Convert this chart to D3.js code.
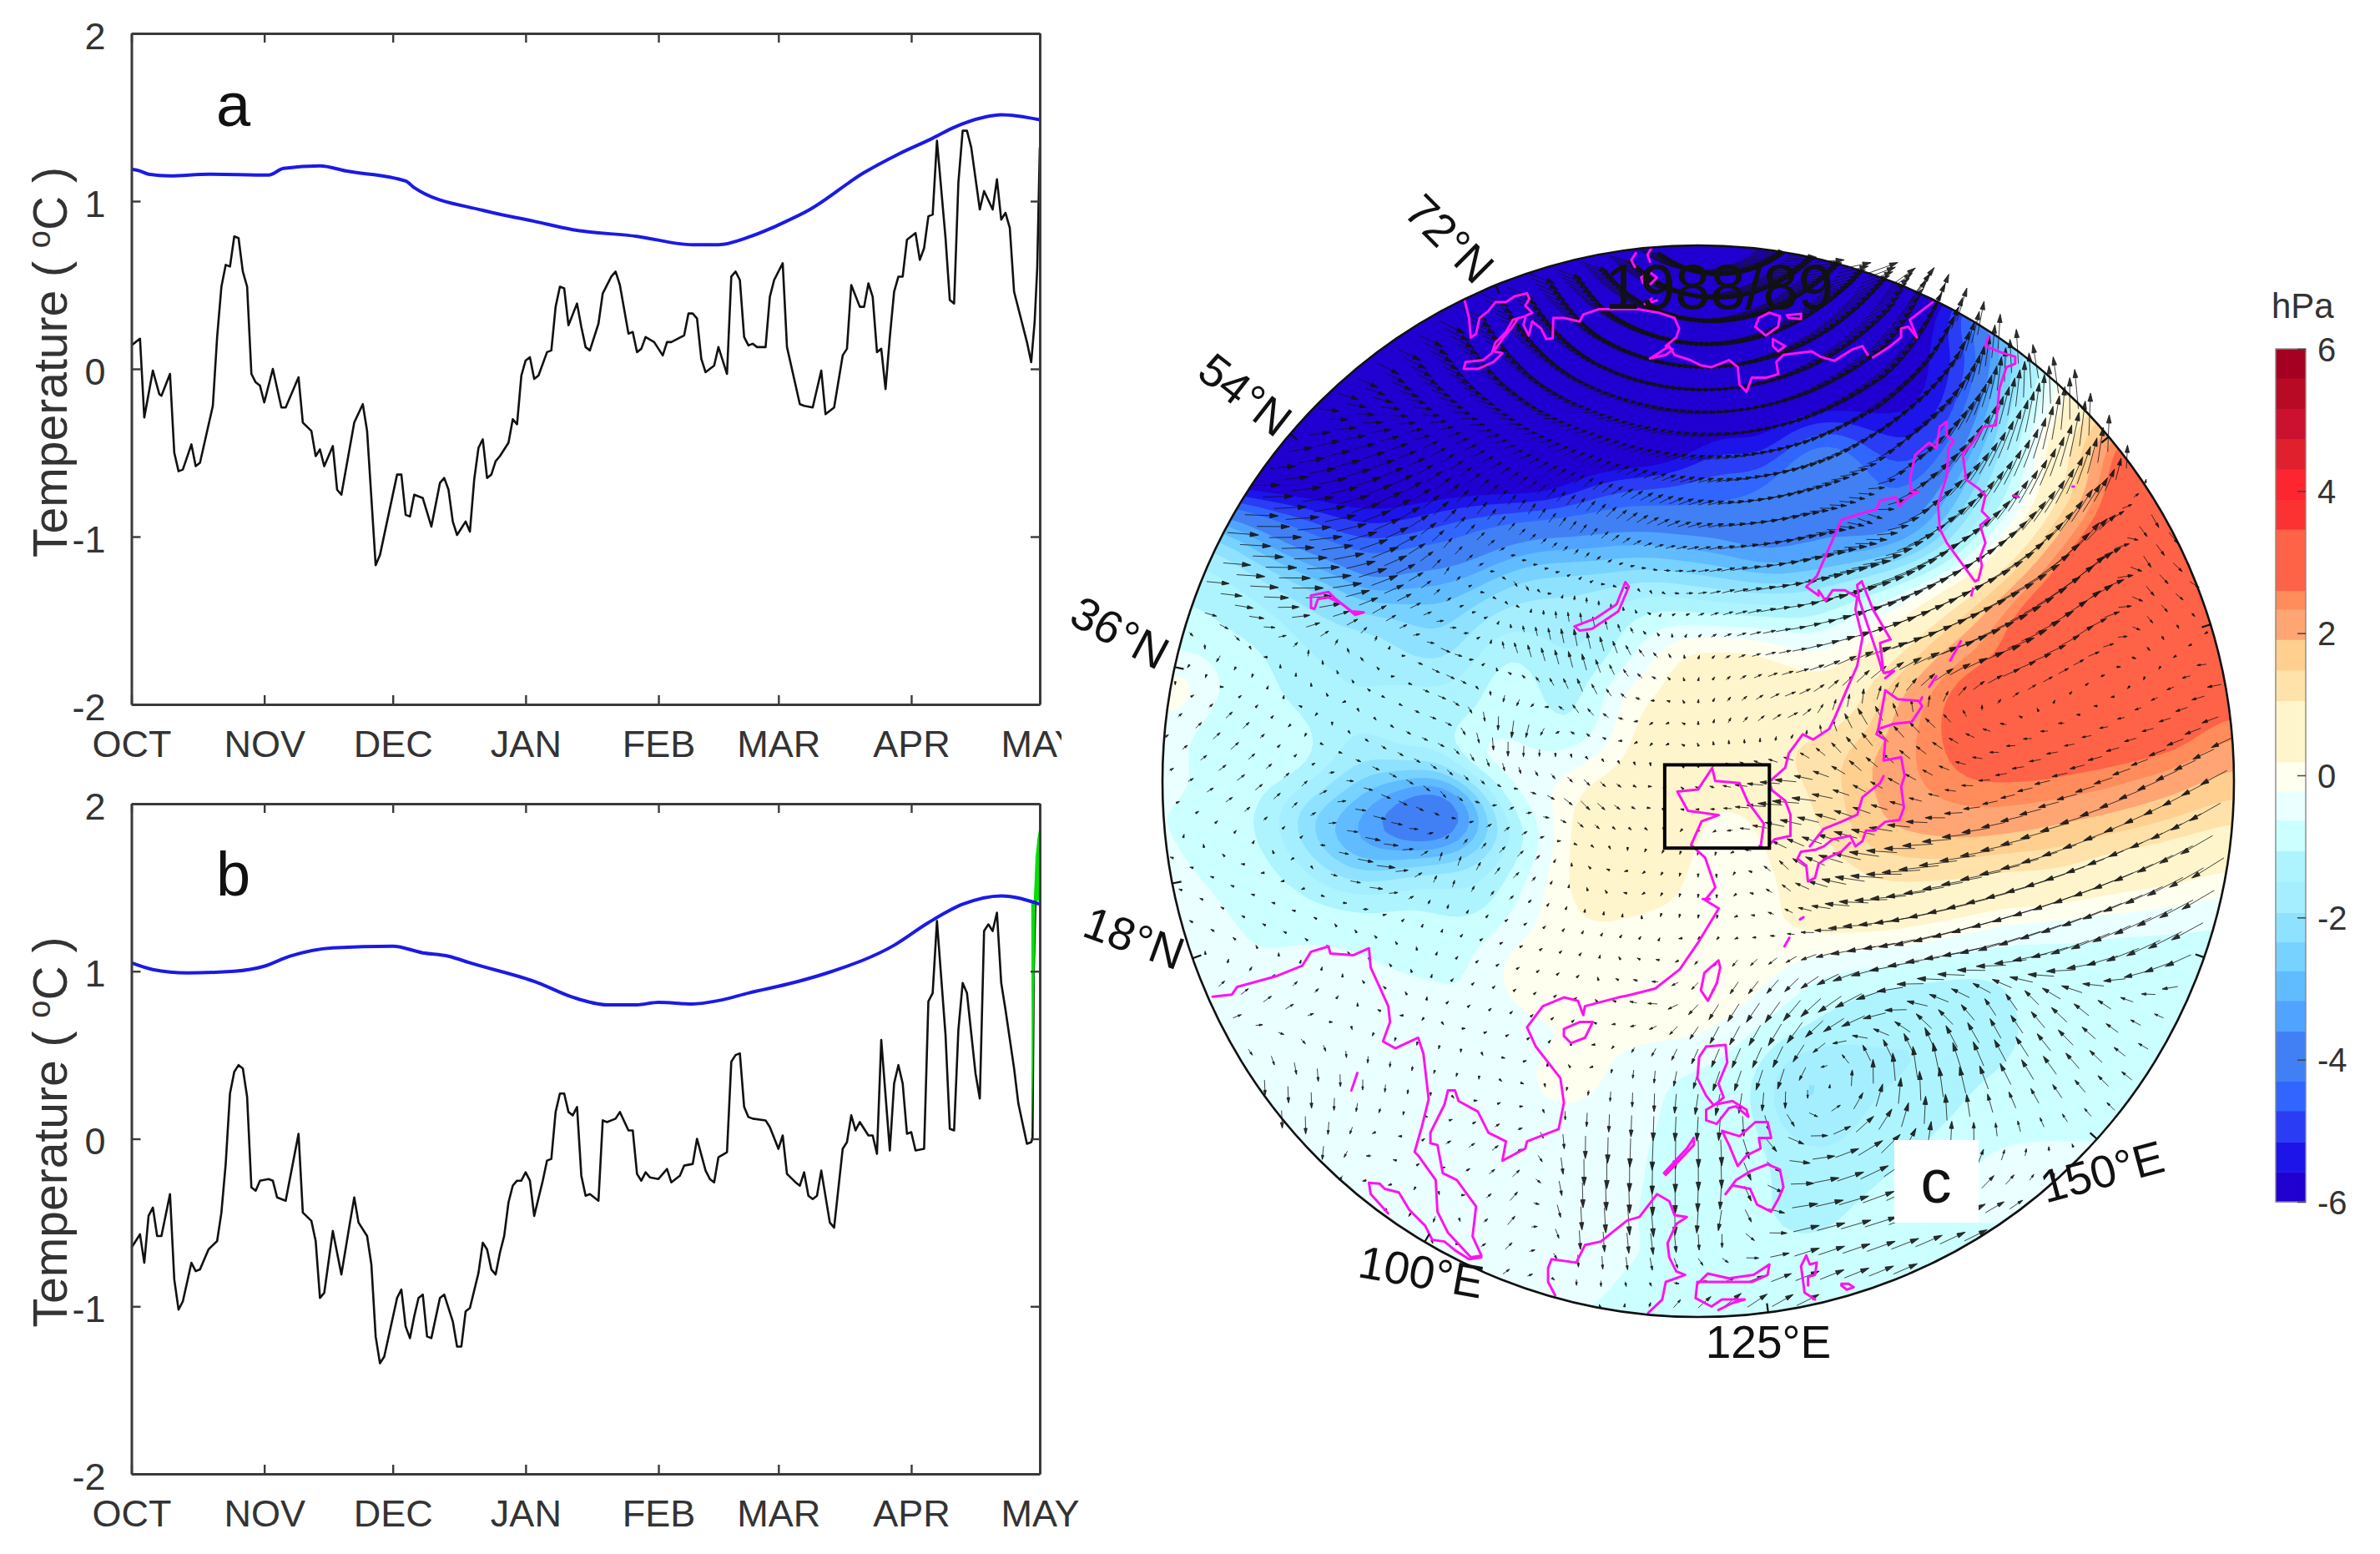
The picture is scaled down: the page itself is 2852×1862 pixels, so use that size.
<!DOCTYPE html>
<html>
<head>
<meta charset="utf-8">
<script src="https://cdn.jsdelivr.net/npm/d3@7"></script>
<style>
  html, body { margin: 0; padding: 0; background: #fff; }
  text { font-family: "Liberation Sans", Arial, sans-serif; }
</style>
</head>
<body>
<div id="main"></div>
<script>
// ---- panel a and b ----
const monthNames = ['OCT', 'NOV', 'DEC', 'JAN', 'FEB', 'MAR', 'APR', 'MAY']
const monthDays = [0, 31, 61, 92, 123, 151, 182, 212]
const tempTicks = [-2, -1, 0, 1, 2]

const aBlackDays = [0,2,3,5,6.5,7,9,10,11,12,14,15,16,19,20,21,22,23,24,25,26,27,28,29,30,31,33,35,36,39,40,42,43,44,45,47,48,49,52,54,55,57,58,62,63,64,65,66,68,70,72,73,74,75,76,78,79,80,81,82,83,84,85,86,88,89,90,91,92,93,94,95,97,98,99,100,101,102,104,105,106,107,109,110,112,113,114,116,117,118,119,120,122,124,125,126,129,130,131,132,133,134,136,137,139,140,141,142,143,144,145,146,148,149,150,152,153,156,157,159,161,162,164,166,167,168,170,171,172,173,174,175,176,177,178,179,180,181,183,184,185,186,187,188,190,191,192,193,194,195,196,198,199,201,202,203,204,205,206,209,210,210.8,211.4,212]
const aBlackVals = [.14,.18,-.29,-.01,-.15,-.16,-.03,-.5,-.61,-.6,-.45,-.58,-.56,-.22,.19,.49,.62,.61,.79,.78,.58,.49,-.03,-.08,-.1,-.2,0,-.23,-.23,-.05,-.32,-.37,-.52,-.48,-.58,-.46,-.72,-.75,-.32,-.21,-.37,-1.17,-1.11,-.63,-.63,-.87,-.88,-.75,-.77,-.94,-.68,-.65,-.72,-.91,-.99,-.91,-.97,-.66,-.47,-.42,-.65,-.63,-.55,-.52,-.44,-.3,-.33,-.04,.05,.07,-.06,-.04,.1,.11,.37,.49,.48,.26,.39,.25,.13,.11,.27,.45,.55,.58,.5,.21,.22,.1,.12,.19,.16,.08,.16,.16,.2,.33,.33,.3,.06,-.02,.02,.13,-.03,.55,.58,.53,.19,.14,.15,.13,.13,.43,.53,.63,.13,-.21,-.22,-.23,-.01,-.27,-.23,.08,.12,.5,.37,.37,.51,.43,.1,.12,-.12,.19,.46,.55,.55,.77,.81,.65,.72,.91,.92,1.36,.78,.41,.39,1.11,1.42,1.42,1.32,.95,1.06,.95,1.13,.89,.93,.84,.46,.16,.04,.28,.6,1.32,1.44]
const aBlueDays = [0,2,4,9,18,32,35.5,44,50,64,66,82,94,103,118,131,137,144,149,152,158,171,179,187,192,199,203,212]
const aBlueVals = [1.19,1.18,1.16,1.15,1.16,1.155,1.195,1.21,1.18,1.12,1.08,.945,.88,.83,.79,.74,.74,.785,.835,.87,.945,1.17,1.28,1.375,1.44,1.5,1.515,1.485]

const bBlackDays = [0,2,3,4,5,6,7,9,10,11,12,14,15,16,18,20,21,22,23,24,25,26,27,28,29,30,32,33,34,36,39,40,42,43,44,45,47,49,51,52,53,55,56,57,58,59,62,63,64,65,66,67,68,69,70,72,73,75,76,77,78,79,81,82,83,84,85,86,87,88,89,90,91,92,93,94,96,97,98,99,100,101,102,103,104,105,106,107,109,110,111,113,114,116,117,118,119,120,121,123,125,126,128,129,131,132,134,135,136,137,139,140,141,142,143,144,145,148,149,151,152,153,155,156,157,158,159,160,161,163,164,166,167,168,169,170,172,173,174,175,177,178,179,180,181,182,183,185,186,187,188,190,191,192,193,194,195,197,198,199,200,201,202,203,204,206,207,209,210,210.3,210.6,211,211.5,212]
const bBlackVals = [-.65,-.57,-.74,-.46,-.41,-.58,-.58,-.33,-.84,-1.02,-.97,-.74,-.79,-.78,-.66,-.61,-.44,-.15,.27,.4,.44,.42,.25,-.29,-.31,-.25,-.24,-.25,-.35,-.37,.03,-.44,-.49,-.61,-.95,-.92,-.55,-.81,-.5,-.35,-.5,-.58,-.75,-1.18,-1.34,-1.3,-.95,-.9,-1.12,-1.19,-1.06,-.95,-.93,-1.18,-1.19,-.95,-.93,-1.09,-1.24,-1.24,-1.03,-1.01,-.8,-.62,-.66,-.78,-.81,-.68,-.58,-.38,-.28,-.25,-.25,-.2,-.25,-.46,-.25,-.13,-.12,.16,.27,.27,.16,.14,.19,-.22,-.34,-.33,-.37,.11,.1,.12,.16,.05,.05,-.21,-.25,-.2,-.23,-.24,-.18,-.26,-.22,-.16,-.15,0,-.19,-.24,-.26,-.11,-.08,.46,.5,.51,.19,.13,.12,.11,.07,-.06,.02,-.21,-.26,-.28,-.2,-.34,-.36,-.34,-.19,-.5,-.53,-.06,-.02,.14,.05,.1,.02,.02,-.09,.59,-.07,.33,.44,.33,.03,.04,-.07,-.06,.82,.87,1.3,.62,.06,.05,.65,.93,.87,.39,.24,1.24,1.28,1.24,1.35,.93,.77,.42,.21,-.03,-.02,0,1,1.42,1.68,1.8,1.87]
const bBlueDays = [0,5,13,24,31,37,47,61,68,74,79,95,103,111,118,123,131,137,144,155,163,178,186,194,203,212]
const bBlueVals = [1.05,1.01,.99,1,1.03,1.09,1.14,1.15,1.11,1.09,1.05,.93,.845,.8,.8,.815,.805,.825,.87,.935,.995,1.155,1.29,1.4,1.45,1.4]
// green sliver at the end of panel b
const bGreenDays = [210.2,210,210.6,211,211.5,212,212,211]
const bGreenVals = [0,1.42,1.42,1.68,1.8,1.87,1.42,1.42]

// ---- panel c, sea level pressure anomaly in hPa ----
// one row per 100 map units, map units run across the disc from 0 to about 3100
const slpRows = [
  [-7,-7,-7,-7,-7,-7,-7,-7,-7,-7,-7,-7,-7,-7,-7,-7,-7,-7,-7,-7,-7,-7,-7,-7,-7,-7,-7,-7,-7,-7,-7,-7],
  [-7,-7,-7,-7,-7,-7,-7,-7,-7,-7,-7,-7,-7,-7,-7,-7,-7,-7,-7,-7,-7,-7,-7,-7,-7,-7,-7,-7,-7,-7,-7,-7],
  [-7,-7,-7,-7,-7,-7,-7,-7,-7,-7,-7,-7,-7,-7,-7,-7,-7,-7,-7,-7,-7,-7,-5.8,-4,-2,-1,0,0,0,0,0,0],
  [-7,-7,-7,-7,-7,-7,-7,-7,-7,-7,-7,-7,-7,-7,-7,-7,-7,-7,-7,-7,-6.5,-6,-5.6,-4.8,-3.3,-1.5,0,1,2,2,2,2],
  [-7,-7,-7,-7,-7,-7,-7,-7,-7,-7,-7,-7,-7,-7,-7,-7,-7,-7,-7,-7,-6.5,-6,-5.6,-5,-2.8,-.8,.3,1,2,2,2,2],
  [-7,-7,-7,-7,-7,-7,-7,-7,-7,-7,-7,-7,-7,-7,-7,-7,-6.5,-6.2,-6,-5.6,-5.8,-5.7,-5.6,-4.3,-2.3,-.6,.5,1.3,2.5,3,3,3],
  [-7,-7,-7,-7,-7,-7,-7,-7,-7,-7,-7,-7,-7,-7,-7,-6,-5,-5.8,-4.6,-3.9,-4.6,-5.2,-5,-3.5,-2,.2,1.2,2.7,3.3,3.8,3.5,3.5],
  [-6.5,-6.5,-6.5,-6.5,-6.5,-6.5,-6.5,-6.5,-6.5,-6.5,-6.5,-6.5,-5.4,-4.8,-4.7,-4.6,-4.5,-4.5,-3.8,-3.1,-4.2,-4.5,-4.2,-2.7,-1.5,0,1,2.9,3.3,3.8,3.5,3.5],
  [-3,-3,-3.5,-4.3,-4.7,-5.2,-5.5,-5.3,-4.8,-4.5,-4.4,-4.3,-4.3,-4.2,-4.2,-4.3,-4.2,-4,-3.6,-3.7,-3.9,-4.2,-3.5,-2,-.9,.5,2,3.1,3.2,3.2,3,3],
  [-1.5,-1.5,-2,-3,-3.7,-4.2,-4.5,-4.2,-4.3,-4,-3.5,-3.2,-3.2,-3,-3,-3.2,-3.4,-4,-4,-3.8,-3.7,-3.3,-2.3,-1,.2,1.7,3,3.2,3.2,3.1,3,3],
  [-1.2,-1.2,-1.3,-1.6,-2.2,-2.6,-3.8,-3.2,-3.1,-2.8,-2.1,-1.9,-1.9,-1.9,-1.7,-1.9,-2,-2.2,-2.2,-1.8,-1.3,-.8,-.1,.6,1.7,2.8,3.2,3.3,3.2,3.1,3,3],
  [-.9,-.9,-1.2,-1.4,-1.6,-1.9,-1.9,-2.2,-2.6,-1.9,-1.7,-1.7,-1.8,-1.1,-.7,-.8,-1,-.9,-1,-.8,-.4,.1,.9,1.8,2.7,3.2,3.2,3.3,3.2,3.1,3,3],
  [-.7,-.7,-.8,-.9,-1.5,-1.6,-1.6,-2,-2.2,-1.6,-.7,-1.4,-1.6,-1.1,-.3,.6,.6,.5,-.1,-.3,.4,.9,2,2.4,2.6,3,3.2,3.2,3.2,3.1,3,3],
  [.4,.3,-.9,-1,-1,-1.5,-1.5,-1.3,-1.4,-1.1,-.6,-1.2,-1.2,-.1,.1,.5,.6,.7,.7,.5,.9,2,2.4,3,3,3.1,3.1,3.1,3.1,3,2.9,2.9],
  [-.5,-.7,-1.2,-1.1,-1,-1.3,-1.4,-.9,-1.2,-1.1,-.8,-1,-1.4,-.1,.5,.7,.8,.8,.9,.9,1.1,2.2,2.5,3,3.1,3.1,3.1,3.1,3,3,2.6,2.5],
  [-.5,-.6,-.9,-.5,-.4,-1.5,-2,-1.5,-1.5,.3,-.3,-.6,-.2,0,.7,.6,.7,.9,1.2,1.3,2,2.3,2.4,2.9,2.8,2.8,2.7,2.7,2.6,2.5,2.1,2],
  [-.6,-.6,-.8,-1.1,-1.9,-2.3,-3,-3.8,-4.6,-3,-.3,-.2,.3,.7,.7,.2,.2,.2,.9,1.2,1.7,2.2,2.4,2.4,2.5,2.5,2.45,2.3,2.1,1.9,1.6,1.5],
  [-.6,-.8,-1,-1,-2.4,-3.1,-3.8,-4.6,-5,-3.2,-1.7,-.6,.6,1,.9,.3,.1,.1,.7,1.2,1.8,2,2.1,2.2,2.1,1.9,1.7,1.6,1.4,1.2,1,.9],
  [-.4,-.7,-.8,-.9,-1.3,-2.4,-2.8,-2.2,-1.7,-1.8,-1,-.3,.6,.8,.8,.2,-.3,-.1,.5,.7,1.1,1.3,1.3,1.3,1.1,1.2,1.1,.7,.6,.5,.3,.2],
  [-.3,-.5,-.7,-.8,-.9,-1,-1.1,-.9,-1.2,-1.5,-.7,-.1,.3,.7,.3,.1,-.3,-.1,.3,.6,.8,.8,.7,.6,.4,.4,.2,.1,0,-.1,-.3,-.4],
  [-.2,-.3,-.6,-.7,-.7,-.7,-.8,-.8,-.8,-.7,-.4,-.1,.1,-.2,-.3,.1,.1,.2,.2,.3,.2,.1,-.1,-.3,-.6,-.7,-.7,-.8,-.8,-.8,-.8,-.8],
  [-.2,-.3,-.5,-.6,-.4,-.4,-.5,-.7,-.7,-.7,.25,.25,.1,.1,.1,.1,.1,.1,-.4,-.7,-.8,-.9,-.9,-1.1,-1,-.9,-.8,-.8,-.8,-.8,-.8,-.8],
  [-.4,-.4,-.4,-.4,-.3,-.3,-.5,-.4,-.5,-.7,-.3,-.2,-.2,.05,.1,.2,.1,-.4,-.7,-1,-1.2,-1.4,-1.5,-1.4,-1.2,-.8,-.7,-.7,-.7,-.7,-.7,-.7],
  [-.4,-.4,-.4,-.35,-.35,-.35,-.35,-.35,-.4,-.35,-.3,-.3,-.2,-.15,-.2,-.2,-.5,-.8,-1.1,-1.4,-1.5,-1.5,-1.5,-1.5,-1.4,-.8,-.7,-.7,-.7,-.7,-.7,-.7],
  [-.4,-.4,-.4,-.35,-.35,-.35,-.35,-.35,-.7,-.7,-.3,-.1,.05,-.3,-.6,-.8,-.8,-1,-2.2,-2.2,-1.6,-1.5,-1.5,-1.2,-.9,-.7,-.7,-.7,-.7,-.7,-.7,-.7],
  [-.4,-.4,-.4,-.35,-.35,-.35,-.35,-.35,-.35,-.5,-.3,-.3,-.3,-.4,-.6,-.7,-.8,-1,-2.1,-1.8,-1.4,-1.4,-1.4,-.9,-.7,-.7,-.7,-.7,-.7,-.7,-.7,-.7],
  [-.6,-.6,-.6,-.6,-.7,-.7,-.4,-.35,-.3,-.3,-.3,-.3,-.3,-.5,-.7,-.7,-.7,-.9,-1.4,-1.5,-1.4,-1.3,-.9,-.6,-.6,-.6,-.6,-.6,-.6,-.6,-.6,-.6],
  [-.6,-.6,-.6,-.6,-.6,-.6,-.4,-.4,-.35,-.3,-.3,-.3,-.35,-.5,-.7,-.6,-.7,-.9,-1.2,-1.3,-1.2,-.9,-.7,-.6,-.6,-.6,-.6,-.6,-.6,-.6,-.6,-.6],
  [-.4,-.4,-.4,-.4,-.4,-.4,-.35,-.35,-.3,-.3,-.3,-.3,-.35,-.6,-.7,-.7,-.7,-1,-1.3,-1.2,-.9,-.7,-.6,-.6,-.6,-.6,-.6,-.6,-.6,-.6,-.6,-.6],
  [-.4,-.4,-.4,-.4,-.4,-.4,-.35,-.35,-.3,-.3,-.3,-.3,-.35,-.6,-.6,-.7,-.7,-.8,-.9,-.9,-.8,-.7,-.7,-.7,-.7,-.7,-.7,-.7,-.7,-.7,-.7,-.7],
  [-.7,-.7,-.7,-.7,-.7,-.7,-.7,-.6,-.5,-.5,-.5,-.5,-.5,-.7,-.7,-.7,-.7,-.7,-.7,-.7,-.7,-.7,-.7,-.7,-.7,-.7,-.7,-.7,-.7,-.7,-.7,-.7],
  [-.7,-.7,-.7,-.7,-.7,-.7,-.7,-.7,-.7,-.7,-.7,-.7,-.7,-.7,-.7,-.7,-.7,-.7,-.7,-.7,-.7,-.7,-.7,-.7,-.7,-.7,-.7,-.7,-.7,-.7,-.7,-.7]
]
const slpLevels = [-6,-5.58,-5.16,-4.72,-4.3,-3.6,-3.17,-2.75,-2.34,-1.93,-1.49,-1.06,-.63,-.22,.19,1.05,1.48,1.91,2.34,2.6,3.46,3.88,4.31,4.73,5.16,5.59]
const slpColors = ['#2000d0','#1c14e8','#2a3cf4','#3066ff','#4080f4','#50a4ff','#60bcff','#78d2ff','#8fe2ff','#a5eeff','#aef4ff','#ccffff','#eaffff','#fffff0','#fff5cc','#ffe2aa','#ffcf90','#ffa574','#ff8c5a','#ff6347','#fc3232','#fc2530','#e0202c','#cc1030','#b80a24','#a50021']
const barTicks = [-6, -4, -2, 0, 2, 4, 6]

// ---- wind anomaly, one row per 200 map units, screen east and north ----
const windU = [
  [4,4,4,4,4,4,4,4,4,4,4,4,4,2,1,0],
  [4,4,4,4,4,4,4,5,5,5,5,2,.5,0,0,0],
  [3,3,3,3,3,3,2.5,3,3,3.5,4,2.5,0,-2,-1,-1],
  [3,3,3.5,3,2,1.8,1.8,2,2.5,3,3,3,2,1,-1,-1],
  [3,5,5,4,2,1,1.2,2,2.5,3,2,3.5,3,3,1,2],
  [2,4,5,4,.5,.5,.2,.3,2,3.5,5,5,5.5,4.5,1.2,1.5],
  [-.5,-.6,.2,-.7,1.5,-.5,-.6,-.8,.7,2,4,5,4,2,.5,-1.5],
  [.6,1.2,-.3,.4,1,-.3,-1,-.6,.3,1.5,-1.5,-1.5,-1,-1,-1.5,-2.5],
  [.5,1.2,1,1.5,.8,.7,1.5,.5,-1,-4.5,-2,-1.5,-2,-3,-3.5,-4.5],
  [-.5,-.4,-.3,3,.3,1,-.2,-.3,.1,-1.5,-4.5,-6,-6,-6,-6,-5],
  [-.6,-.6,-.5,-.3,.1,.3,.2,.1,-.1,-1,-4,-6,-6.5,-6,-5.5,-4.5],
  [1.5,1.5,1.2,-.3,.1,.3,.2,-1.5,-1.5,-2.5,-4,-3,-1.5,-2.5,-1.5,-1],
  [.1,.1,.1,0,-.2,.1,-.2,0,-1,-.8,-.3,-.8,-1.8,-2,-1.5,-1],
  [.1,.1,.1,-.8,.8,1,0,-.2,.3,3,3.5,.3,0,-.1,-1,-1],
  [-.5,-.5,-.5,-.5,-.3,1.2,.2,.4,-.6,4,5,4.5,2.5,-.5,0,0],
  [1,1,1,1,1,1,-.1,.3,2,3.5,3.5,3,3,2,2,2]
]
const windV = [
  [-1,-1,-1,-1,-1,-1,-1,-1,-1,-1,0,2,4,5,5,5],
  [-2,-2,-2,-2,-2,-2,-2,-1,0,1.5,2.5,5,6,6,6,6],
  [-1.5,-1.5,-1.5,-1.5,-1.5,-1.5,-.7,-.3,.3,.8,1.5,3,5,5,5,5],
  [0,0,.8,.8,1,.4,.8,.6,.6,.8,1.5,3.5,6,7,5,5],
  [-.5,-.4,.6,1.8,2,1.6,1.6,1.2,.4,.4,-1,3,4.5,5,-2,-1.5],
  [-.3,-.3,0,1.5,1,-1,.2,-.5,.5,.5,1.2,2.5,3,3.5,-1.5,-.5],
  [-.5,-1,1,.7,-.8,1.5,3,.8,.4,.4,1.5,2,1.5,1,-.5,0],
  [.5,1.2,-.3,-.5,-.3,-3,1,-.5,.8,.8,2.5,1.5,.2,-.1,-.3,-1],
  [.1,.8,1,-.5,-1,.3,-1.5,.1,.2,.1,1,.5,-.5,-.8,-1.5,-2.5],
  [.1,.1,-.3,-.5,1.5,1,.3,-.3,-.7,1.5,1,-.6,-1.2,-2,-2.5,-3],
  [.4,.4,.3,.3,.2,.1,.3,.1,-.1,.1,-.3,-1.5,-2,-2.2,-2.5,-2.5],
  [1,1,.8,.2,.1,.3,.1,.3,-2.5,-3.5,-2.5,1,2.5,2,.7,.2],
  [-2,-2,-2.5,-1.5,-.5,-.1,.2,-2,-3,-3,3.5,5,3.5,2.5,1,.5],
  [-3,-3,-3,0,.5,.8,-4,-5,-4,-.5,2.5,4,1.5,.3,1,1],
  [-.1,-.1,-.1,-.1,-1,1.5,-3.5,-4,-3,.8,1.5,2,1.5,-.6,0,0],
  [.6,.6,.6,.6,.6,.6,-.7,-.3,1,1.5,1.5,1.5,1.5,1,1,1]
]

// ---- coastlines traced in map units ----
const coastLines = [
  [[868,192],[880,240],[885,296],[900,285],[910,240],[935,220],[955,195],[985,195],[1010,178],[1045,170],[1052,185],[1040,205],[1060,225],[1040,235],[1005,245],[985,280],[955,310],[945,340],[920,360],[870,365],[865,385],[905,385],[950,365],[975,340],[950,335],[975,300],[1000,270],[1020,240]],
  [[1040,240],[1035,260],[1050,290],[1060,250],[1085,270],[1100,300],[1118,298],[1120,240],[1150,240],[1195,250],[1205,230],[1250,215],[1300,215],[1360,215],[1420,225],[1465,240],[1478,270],[1470,295],[1440,320],[1460,330],[1440,345],[1395,355],[1420,340],[1450,320],[1465,345],[1510,360],[1540,375],[1570,380],[1620,360],[1645,380],[1650,430],[1670,450],[1685,410],[1725,410],[1760,400],[1755,365],[1775,345],[1855,335],[1880,350],[1920,362],[1970,330],[2000,320],[2015,345]],
  [[2030,352],[2080,320],[2110,295],[2110,270],[2130,265],[2155,295],[2135,245],[2200,195]],
  [[1355,55],[1342,75],[1352,95]],
  [[1400,40],[1388,60],[1395,80]],
  [[1370,125],[1395,110],[1415,125],[1395,145],[1375,140],[1370,125]],
  [[1400,185],[1380,200],[1415,190]],
  [[1735,225],[1705,240],[1695,265],[1725,290],[1760,265],[1765,235],[1735,225]],
  [[1785,232],[1825,228],[1825,243],[1790,240],[1785,232]],
  [[1745,300],[1780,320],[1760,335],[1745,320],[1745,300]],
  // okhotsk and the siberian coast down to korea
  [[2360,290],[2350,320],[2400,340],[2435,350],[2435,370],[2410,380],[2390,440],[2380,545],[2345,550],[2310,600],[2285,625],[2295,700],[2330,725],[2350,745],[2340,790],[2360,810],[2335,830],[2350,880],[2335,920],[2340,945],[2330,985],[2320,990],[2240,880],[2220,840],[2215,770],[2240,690],[2245,610],[2260,590],[2240,575],[2240,535],[2220,550],[2215,580],[2210,610],[2190,595],[2150,630],[2135,700],[2140,735],[2160,735],[2130,750],[2105,775],[2095,750],[2050,760],[2040,785],[2000,795],[1940,815],[1920,860],[1870,975],[1840,1005],[1875,1030],[1875,1015],[1895,1045],[1915,1015],[1950,1015],[1985,1035],[1980,1070],[2000,1150],[1985,1230],[1950,1310],[1920,1380],[1905,1410],[1860,1440],[1830,1425],[1790,1480],[1780,1520],[1735,1560],[1742,1584],[1780,1614],[1795,1654],[1795,1714],[1750,1724],[1735,1739]],
  // sakhalin
  [[1998,990],[2030,1070],[2080,1155],[2050,1165],[2060,1250],[2090,1245],[2065,1265]],
  [[1998,990],[1985,1000],[1990,1040],[2010,1100],[2040,1190],[2055,1240]],
  // japan
  [[2065,1300],[2100,1325],[2160,1330],[2170,1345],[2140,1390],[2090,1395],[2045,1410],[2040,1425],[2065,1440],[2060,1500],[2110,1490],[2120,1544],[2110,1574],[2118,1634],[2105,1669],[2065,1674],[2035,1699],[2010,1699],[2000,1729],[1980,1744],[1965,1714],[1915,1724],[1890,1744],[1865,1754],[1825,1759],[1815,1779],[1840,1799],[1845,1844],[1865,1834],[1875,1794],[1895,1779],[1940,1759],[1965,1734]],
  [[2065,1300],[2060,1330],[2045,1410]],
  [[2060,1544],[2050,1564],[2000,1604],[1985,1654],[1940,1674],[1890,1694],[1850,1744]],
  // bohai and the china coast, indochina, malay peninsula, burma and india
  [[1710,1746],[1719,1679],[1674,1618],[1650,1564],[1581,1558],[1572,1521],[1532,1582],[1473,1588],[1503,1643],[1591,1655],[1542,1673],[1512,1740],[1552,1776],[1581,1861],[1552,1897],[1591,1921],[1532,2018],[1480,2094],[1410,2149],[1330,2169],[1305,2174],[1210,2199],[1205,2224],[1190,2184],[1150,2174],[1090,2199],[1045,2259],[1070,2314],[1140,2404],[1150,2474],[1135,2549],[1045,2584],[1040,2604],[975,2639],[985,2584],[935,2559],[905,2499],[850,2469],[840,2439],[820,2439],[810,2479],[770,2559],[770,2589],[790,2594],[805,2674],[845,2694],[900,2769],[890,2854],[915,2909],[885,2914],[820,2844],[790,2784],[785,2694],[735,2624],[725,2614],[745,2544],[765,2464],[750,2334],[735,2289],[670,2319],[635,2299],[655,2244],[650,2199],[625,2144],[600,2089],[595,2034],[550,2054],[485,2049],[480,2029],[430,2044],[405,2084],[330,2114],[220,2144],[205,2166],[150,2172]],
  // hainan, sumatra, andaman
  [[1150,2264],[1195,2244],[1232,2244],[1210,2289],[1170,2304],[1150,2284],[1150,2264]],
  [[595,2702],[625,2704],[640,2719],[680,2729],[710,2779],[755,2824],[775,2864],[810,2869],[840,2894],[880,2919],[915,2914]],
  [[595,2702],[600,2734],[650,2789]],
  [[545,2439],[562,2389]],
  // borneo and palawan
  [[1125,3022],[1105,2984],[1105,2944],[1115,2919],[1185,2929],[1210,2879],[1255,2869],[1330,2809],[1365,2799],[1415,2734],[1450,2754],[1465,2794],[1500,2799],[1470,2819],[1445,2874],[1450,2914],[1470,2954],[1495,2964],[1440,2984],[1430,3034],[1390,3072]],
  [[1435,2674],[1500,2604],[1520,2574],[1520,2594],[1440,2679],[1435,2674]],
  // sulawesi, halmahera, new guinea tip
  [[1530,2990],[1560,2960],[1620,2974],[1690,2964],[1735,2934],[1730,2964],[1685,2984],[1580,2984],[1530,2984],[1525,3030],[1570,3054],[1600,3034],[1665,3034],[1630,3044],[1590,3064]],
  [[1840,2909],[1825,2939],[1830,2974],[1835,3014],[1865,3034]],
  [[1840,2909],[1850,2934],[1870,2929],[1865,2964],[1845,2969],[1845,2994]],
  [[1940,2989],[1960,2989],[1975,2999],[1955,3006],[1940,2994],[1940,2989]],
  // philippines
  [[1555,2314],[1610,2309],[1615,2359],[1590,2419],[1605,2459],[1580,2479]],
  [[1555,2314],[1535,2344],[1530,2404],[1555,2454],[1575,2479]],
  [[1580,2479],[1630,2469],[1670,2494],[1675,2514],[1640,2484],[1620,2489],[1585,2534],[1555,2524],[1555,2494],[1580,2479]],
  [[1600,2554],[1650,2569],[1695,2529],[1730,2529],[1740,2574],[1705,2574],[1710,2604],[1670,2624],[1645,2654],[1620,2594],[1600,2554]],
  [[1610,2734],[1640,2694],[1680,2669],[1730,2649],[1765,2664],[1775,2714],[1760,2749],[1740,2784],[1700,2764],[1680,2719],[1630,2709],[1610,2734]],
  // taiwan and ryukyu bits
  [[1590,2069],[1550,2104],[1540,2154],[1560,2184],[1585,2134],[1595,2089],[1590,2069]],
  [[1778,2029],[1792,2004]],
  [[1822,1952],[1832,1946]],
  // balkhash and baikal
  [[430,1065],[430,1030],[480,1020],[500,1040],[545,1075],[580,1078],[555,1085],[520,1055],[480,1035],[450,1040],[440,1068],[430,1065]],
  [[1325,992],[1300,1055],[1240,1095],[1180,1118],[1195,1130],[1230,1125],[1305,1075],[1335,1005],[1325,992]],
  // kurils and other specks
  [[2315,1010],[2310,1030]],
  [[2280,1160],[2250,1215]],
  [[2210,1260],[2190,1290]],
  [[2170,1320],[2165,1330]],
  [[2430,745],[2445,750]],
  [[2598,720],[2602,720]],
  [[1545,1894],[1565,1894]]
]

// map labels: text, turn, centre, all in picture space; ticks as angle round the disc
const mapLabels = [
  { t: '72°N', a: 45, x: 1737, y: 286 },
  { t: '54°N', a: 38, x: 1492, y: 473 },
  { t: '36°N', a: 28, x: 1342, y: 758 },
  { t: '18°N', a: 20, x: 1359, y: 1124 },
  { t: '100°E', a: 10, x: 1703, y: 1524 },
  { t: '125°E', a: 0, x: 2119, y: 1608 },
  { t: '150°E', a: -15, x: 2519, y: 1404 }
]
const rimTicks = [-112.2, -139.6, -167.7, 169, 160.7, 120.7, 82.5, 41.9, 19.2, -17, -40]

const svg = d3.select('#main').append('svg')
  .attr('width', 2852)
  .attr('height', 1862)
  .style('display', 'block')

// ---- the two time series panels ----
function drawPanel(o) {
  const left = 157.5, right = 1246
  const x = d3.scaleLinear().domain([0, 212]).range([left, right])
  const y = d3.scaleLinear().domain([-2, 2]).range([o.bottom, o.top])
  const g = svg.append('g')
  const line = (days, vals, curve) => d3.line().curve(curve || d3.curveLinear)
    .x((d, i) => x(days[i])).y((d, i) => y(vals[i]))(days)

  g.append('path').attr('d', line(o.blackDays, o.blackVals))
    .attr('fill', 'none').attr('stroke', '#111').attr('stroke-width', 2.6).attr('stroke-linejoin', 'round')
  if (o.greenDays) {
    g.append('path')
      .attr('d', line(o.greenDays, o.greenVals) + 'Z')
      .attr('fill', '#00e000')
  }
  g.append('path').attr('d', line(o.blueDays, o.blueVals, d3.curveMonotoneX))
    .attr('fill', 'none').attr('stroke', '#1a1ae6').attr('stroke-width', 4)

  const bottom = g.append('g').attr('transform', `translate(0,${o.bottom})`)
    .call(d3.axisBottom(x).tickValues(monthDays).tickFormat((d, i) => monthNames[i]).tickSizeInner(-11).tickSizeOuter(0))
  bottom.selectAll('text').attr('y', 63).attr('dy', 0)
  g.append('g').attr('transform', `translate(0,${o.top})`)
    .call(d3.axisTop(x).tickValues(monthDays).tickFormat('').tickSizeInner(-11).tickSizeOuter(0))
  const leftAxis = g.append('g').attr('transform', `translate(${left},0)`)
    .call(d3.axisLeft(y).tickValues(tempTicks).tickFormat(d => d).tickSizeInner(-11).tickSizeOuter(0))
  leftAxis.selectAll('text').attr('x', -31).attr('dy', 18).attr('text-anchor', 'end')
  g.append('g').attr('transform', `translate(${right},0)`)
    .call(d3.axisRight(y).tickValues(tempTicks).tickFormat('').tickSizeInner(-11).tickSizeOuter(0))

  g.selectAll('.domain').attr('stroke', '#3a3a3a').attr('stroke-width', 3)
  g.selectAll('.tick line').attr('stroke', '#3a3a3a').attr('stroke-width', 2.4)
  g.selectAll('.tick text').attr('font-size', 45).attr('fill', '#333').attr('font-family', '"Liberation Sans", Arial, sans-serif')

  if (o.clipRight < 1300) {
    // the reference cuts off its MAY in panel a
    g.append('rect').attr('x', o.clipRight).attr('y', o.bottom + 20).attr('width', 60).attr('height', 60).attr('fill', '#fff')
  }

  g.append('text').attr('x', o.labelX).attr('y', o.labelY)
    .attr('font-size', 74).attr('fill', '#111').text(o.name)

  const ylab = g.append('text')
    .attr('transform', `translate(80,${(o.top + o.bottom) / 2 - 8}) rotate(-90)`)
    .attr('text-anchor', 'middle').attr('font-size', 57).attr('fill', '#333')
  ylab.append('tspan').text('Temperature ( ')
  ylab.append('tspan').attr('dy', -20).attr('font-size', 38).text('o')
  ylab.append('tspan').attr('dy', 20).text('C )')
}

drawPanel({ name: 'a', top: 40, bottom: 844, clipRight: 1272, labelX: 259, labelY: 151,
  blackDays: aBlackDays, blackVals: aBlackVals, blueDays: aBlueDays, blueVals: aBlueVals })
drawPanel({ name: 'b', top: 963, bottom: 1766, clipRight: 1400, labelX: 259, labelY: 1073,
  blackDays: bBlackDays, blackVals: bBlackVals, blueDays: bBlueDays, blueVals: bBlueVals,
  greenDays: bGreenDays, greenVals: bGreenVals })

// ---- the disc ----
const cx = 2035, cy = 936, radius = 642
const mapX = d3.scaleLinear().domain([0, 1568]).range([1390, 2050])
const mapY = d3.scaleLinear().domain([0, 1568]).range([280, 940])

svg.append('clipPath').attr('id', 'disc').append('circle')
  .attr('cx', cx).attr('cy', cy).attr('r', radius)

// pressure field, made finer so the filled bands come out smooth
const rows = slpRows.length, cols = slpRows[0].length, fine = 4
const fineW = (cols - 1) * fine + 1, fineH = (rows - 1) * fine + 1
const fineVals = new Float64Array(fineW * fineH)
for (let j = 0; j < fineH; j++) {
  const fy = j / fine, j0 = Math.min(Math.floor(fy), rows - 2), ty = fy - j0
  for (let i = 0; i < fineW; i++) {
    const fx = i / fine, i0 = Math.min(Math.floor(fx), cols - 2), tx = fx - i0
    fineVals[j * fineW + i] =
      (1 - ty) * ((1 - tx) * slpRows[j0][i0] + tx * slpRows[j0][i0 + 1]) +
      ty * ((1 - tx) * slpRows[j0 + 1][i0] + tx * slpRows[j0 + 1][i0 + 1])
  }
}
if (d3.blur2) d3.blur2({ data: fineVals, width: fineW, height: fineH }, 1.5)

const fieldStep = 100 / fine
const fieldPath = d3.geoPath(d3.geoTransform({
  point(px, py) { this.stream.point(mapX((px - 0.5) * fieldStep), mapY((py - 0.5) * fieldStep)) }
}))
const field = svg.append('g').attr('clip-path', 'url(#disc)')
field.append('circle').attr('cx', cx).attr('cy', cy).attr('r', radius).attr('fill', slpColors[0])
const bands = d3.contours().size([fineW, fineH]).thresholds(slpLevels)(Array.from(fineVals))
field.selectAll('path').data(bands).join('path')
  .attr('d', fieldPath)
  .attr('fill', d => slpColors[slpLevels.indexOf(d.value)])

// wind arrows sit on a lat lon grid seen through a stereographic view
const projection = d3.geoStereographic()
  .rotate([-120, -40])
  .scale(radius / Math.tan(22.5 * Math.PI / 180))
  .translate([cx, cy])
  .clipAngle(90)

const gridLons = d3.range(0, 360, 1.875)
const gridLats = d3.range(-10, 89, 1.9)
const centre = [120, 40]
const windCell = 200

function windAt(px, py) {
  const fx = mapX.invert(px) / windCell, fy = mapY.invert(py) / windCell
  const i0 = Math.max(0, Math.min(Math.floor(fx), 14)), j0 = Math.max(0, Math.min(Math.floor(fy), 14))
  const tx = fx - i0, ty = fy - j0
  const mix = t => (1 - ty) * ((1 - tx) * t[j0][i0] + tx * t[j0][i0 + 1]) + ty * ((1 - tx) * t[j0 + 1][i0] + tx * t[j0 + 1][i0 + 1])
  return [mix(windU), mix(windV)]
}

const arrows = []
gridLats.forEach(lat => gridLons.forEach(lon => {
  if (d3.geoDistance([lon, lat], centre) > 45 * Math.PI / 180) return
  const [px, py] = projection([lon, lat])
  const [u, v] = windAt(px, py)
  arrows.push({ px, py, u, v })
}))

const arrowScale = 8
function arrowPath(d) {
  const dx = d.u * arrowScale, dy = -d.v * arrowScale
  const len = Math.hypot(dx, dy) || 1
  const ux = dx / len, uy = dy / len
  const x1 = d.px + dx, y1 = d.py + dy
  const head = Math.max(4, Math.min(10, len * 0.32)), wide = head * 0.28
  const bx = x1 - ux * head, by = y1 - uy * head
  return `M${d.px},${d.py}L${bx},${by}M${x1},${y1}L${bx - uy * wide},${by + ux * wide}L${bx + uy * wide},${by - ux * wide}Z`
}
svg.append('g').selectAll('path').data(arrows).join('path')
  .attr('d', arrowPath)
  .attr('fill', '#111')
  .attr('fill-opacity', 0.88)
  .attr('stroke', '#111')
  .attr('stroke-width', 1)
  .attr('stroke-opacity', 0.78)

// coastlines
const coast = d3.line().x(d => mapX(d[0])).y(d => mapY(d[1]))
svg.append('g').attr('clip-path', 'url(#disc)').selectAll('path').data(coastLines).join('path')
  .attr('d', coast)
  .attr('fill', 'none')
  .attr('stroke', '#ff12f0')
  .attr('stroke-width', 3)
  .attr('stroke-linejoin', 'round')
  .attr('stroke-linecap', 'round')

// rim and its ticks
svg.append('circle').attr('cx', cx).attr('cy', cy).attr('r', radius)
  .attr('fill', 'none').attr('stroke', '#111').attr('stroke-width', 2.6)
svg.append('g').selectAll('line').data(rimTicks).join('line')
  .attr('x1', d => cx + radius * Math.cos(d * Math.PI / 180))
  .attr('y1', d => cy + radius * Math.sin(d * Math.PI / 180))
  .attr('x2', d => cx + (radius - 11) * Math.cos(d * Math.PI / 180))
  .attr('y2', d => cy + (radius - 11) * Math.sin(d * Math.PI / 180))
  .attr('stroke', '#111').attr('stroke-width', 2.2)

// study box
svg.append('rect')
  .attr('x', mapX(1735 - 298)).attr('y', mapY(1749 - 237))
  .attr('width', mapX(1735) - mapX(1735 - 298)).attr('height', mapY(1749) - mapY(1749 - 237))
  .attr('fill', 'none').attr('stroke', '#000').attr('stroke-width', 4)

svg.append('text').attr('x', 1923).attr('y', 370)
  .attr('font-size', 76).attr('fill', '#111').attr('textLength', 274).text('1988/89')

// white card with the c label
svg.append('rect').attr('x', 2270).attr('y', 1366).attr('width', 101).attr('height', 99).attr('fill', '#fff')
svg.append('text').attr('x', 2320).attr('y', 1441).attr('text-anchor', 'middle')
  .attr('font-size', 74).attr('fill', '#111').text('c')

svg.append('g').selectAll('text').data(mapLabels).join('text')
  .attr('transform', d => `translate(${d.x},${d.y}) rotate(${d.a})`)
  .attr('text-anchor', 'middle').attr('dy', 19)
  .attr('font-size', 55).attr('fill', '#111')
  .text(d => d.t)

// ---- colour bar ----
const barY = d3.scaleLinear().domain([-6, 6]).range([1440, 418])
const barX = 2727, barW = 36
const barEdges = slpLevels.concat([6])
svg.append('g').selectAll('rect').data(slpColors).join('rect')
  .attr('x', barX).attr('width', barW)
  .attr('y', (d, i) => barY(barEdges[i + 1]))
  .attr('height', (d, i) => barY(barEdges[i]) - barY(barEdges[i + 1]) + 0.5)
  .attr('fill', d => d)
svg.append('rect').attr('x', barX).attr('y', 418).attr('width', barW).attr('height', 1022)
  .attr('fill', 'none').attr('stroke', '#888').attr('stroke-width', 1.4)
const barAxis = svg.append('g').attr('transform', `translate(${barX + barW},0)`)
  .call(d3.axisRight(barY).tickValues(barTicks).tickSizeInner(-10).tickSizeOuter(0).tickFormat(d => d))
barAxis.select('.domain').remove()
barAxis.selectAll('.tick line').attr('stroke', '#444').attr('stroke-width', 1.5)
barAxis.selectAll('.tick text').attr('x', 14).attr('dy', 14).attr('font-size', 40).attr('fill', '#333')
  .attr('text-anchor', 'start').attr('font-family', '"Liberation Sans", Arial, sans-serif')
svg.append('text').attr('x', 2722).attr('y', 381).attr('font-size', 42).attr('fill', '#333').text('hPa')
</script>
</body>
</html>
